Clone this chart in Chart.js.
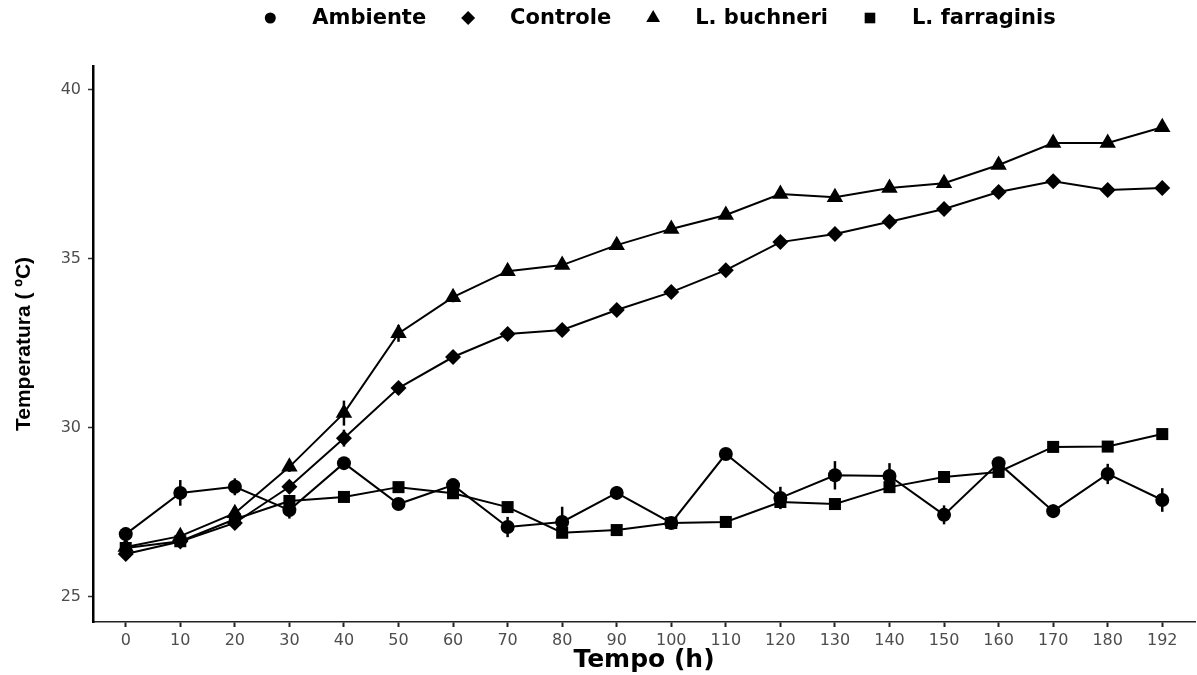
<!DOCTYPE html>
<html lang="pt">
  <head>
    <meta charset="UTF-8" />
    <title>Temperatura x Tempo</title>
    <script src="https://cdn.jsdelivr.net/npm/chart.js"></script>
    <style>
      html, body { margin: 0; padding: 0; background: #fff; }
      #wrap { width: 1197px; height: 675px; }
    </style>
  </head>
  <body>
    <div id="wrap"><canvas id="tempChart" width="1197" height="675"></canvas></div>

    <script>
      // horas de fermentação
      const horas = ["0", "10", "20", "30", "40", "50", "60", "70", "80", "90", "100",
        "110", "120", "130", "140", "150", "160", "170", "180", "192"];

      const ambiente = [26.86, 28.08, 28.26, 27.57, 28.96, 27.75, 28.31, 27.07, 27.22, 28.08,
        27.19, 29.23, 27.93, 28.6, 28.58, 27.43, 28.96, 27.54, 28.64, 27.87];
      const ambienteErro = [0.2, 0.38, 0.25, 0.25, 0.1, 0.15, 0.15, 0.3, 0.45, 0.2,
        0.15, 0.15, 0.33, 0.42, 0.38, 0.28, 0.1, 0.2, 0.3, 0.35];

      const controle = [26.27, 26.64, 27.19, 28.26, 29.7, 31.18, 32.1, 32.78, 32.9, 33.49,
        34.02, 34.67, 35.5, 35.74, 36.1, 36.48, 36.98, 37.3, 37.04, 37.1];
      const controleErro = [0.1, 0.1, 0.1, 0.1, 0.25, 0.1, 0.1, 0.05, 0.05, 0.05,
        0.05, 0.05, 0.05, 0.05, 0.05, 0.05, 0.05, 0.05, 0.05, 0.05];

      const buchneri = [26.48, 26.8, 27.48, 28.85, 30.44, 32.8, 33.87, 34.64, 34.82, 35.41,
        35.89, 36.3, 36.92, 36.83, 37.1, 37.24, 37.78, 38.43, 38.43, 38.9];
      const buchneriErro = [0.1, 0.1, 0.1, 0.15, 0.37, 0.25, 0.15, 0.05, 0.05, 0.1,
        0.05, 0.05, 0.05, 0.05, 0.05, 0.05, 0.05, 0.05, 0.05, 0.05];

      const farraginis = [26.45, 26.65, 27.3, 27.84, 27.96, 28.25, 28.07, 27.66, 26.9, 26.98,
        27.19, 27.22, 27.81, 27.75, 28.25, 28.55, 28.7, 29.44, 29.45, 29.82];
      const farraginisErro = [0.1, 0.1, 0.1, 0.1, 0.1, 0.1, 0.1, 0.1, 0.1, 0.1,
        0.1, 0.1, 0.1, 0.1, 0.1, 0.1, 0.1, 0.1, 0.1, 0.1];

      const yTicks = [25, 30, 35, 40];

      // ordem do ggplot: Ambiente, Controle, L. buchneri, L. farraginis
      const series = [
        { nome: "Ambiente", dados: ambiente, erro: ambienteErro, forma: "circle", raio: 7, raioLeg: 5.5 },
        { nome: "Controle", dados: controle, erro: controleErro, forma: "rectRot", raio: 8, raioLeg: 7 },
        { nome: "L. buchneri", dados: buchneri, erro: buchneriErro, forma: "triangle", raio: 9.5, raioLeg: 8 },
        { nome: "L. farraginis", dados: farraginis, erro: farraginisErro, forma: "rect", raio: 8.5, raioLeg: 7.5 },
      ];

      // barras de erro verticais
      const errorBars = {
        id: "errorBars",
        beforeDatasetsDraw(chart) {
          const ctx = chart.ctx;
          const y = chart.scales.y;
          ctx.save();
          ctx.strokeStyle = "#000";
          ctx.lineWidth = 2.5;
          chart.data.datasets.forEach((ds, d) => {
            const meta = chart.getDatasetMeta(d);
            meta.data.forEach((pt, i) => {
              const v = ds.data[i].y;
              const e = ds.erro[i];
              ctx.beginPath();
              ctx.moveTo(pt.x, y.getPixelForValue(v - e));
              ctx.lineTo(pt.x, y.getPixelForValue(v + e));
              ctx.stroke();
            });
          });
          ctx.restore();
        },
      };

      // legenda no topo, como no ggplot
      const topLegend = {
        id: "topLegend",
        afterDraw(chart) {
          const ctx = chart.ctx;
          const gap = 42;
          const cy = 18;
          ctx.save();
          ctx.font = 'bold 21px "DejaVu Sans"';
          const widths = series.map((s) => ctx.measureText(s.nome).width);
          let total = 6;
          widths.forEach((w, i) => { total += gap + w + (i < widths.length - 1 ? gap : 0); });
          let x = 660 - total / 2 + 6;
          ctx.fillStyle = "#000";
          ctx.strokeStyle = "#000";
          ctx.textBaseline = "middle";
          ctx.textAlign = "left";
          series.forEach((s, i) => {
            Chart.helpers.drawPoint(ctx, { pointStyle: s.forma, radius: s.raioLeg, rotation: 0, borderWidth: 0 }, x, cy);
            ctx.fillStyle = "#000";
            ctx.fillText(s.nome, x + gap, cy + 1);
            x += gap + widths[i] + gap;
          });
          ctx.restore();
        },
      };

      const datasets = series.map((s) => ({
        label: s.nome,
        data: s.dados.map((v, i) => ({ x: i, y: v })),
        erro: s.erro,
        borderColor: "#000",
        backgroundColor: "#000",
        borderWidth: 2,
        pointStyle: s.forma,
        pointRadius: s.raio,
        pointHoverRadius: s.raio,
        pointBorderWidth: 0,
        fill: false,
        tension: 0,
      }));

      const config = {
        type: "line",
        data: { datasets: datasets },
        options: {
          responsive: false,
          animation: false,
          layout: { autoPadding: false, padding: { top: 66, right: 2, left: 0, bottom: 0 } },
          plugins: {
            legend: { display: false },
            tooltip: { enabled: false },
          },
          scales: {
            x: {
              type: "linear",
              min: -0.6,
              max: 19.6,
              afterBuildTicks: (scale) => {
                scale.ticks = horas.map((h, i) => ({ value: i }));
              },
              afterFit: (scale) => {
                scale.height = 53;
                scale.paddingLeft = 0;
                scale.paddingRight = 0;
              },
              ticks: {
                autoSkip: false,
                maxRotation: 0,
                padding: 4,
                color: "#4d4d4d",
                font: { family: "DejaVu Sans", size: 16 },
                callback: (value) => horas[value],
              },
              grid: {
                drawOnChartArea: false,
                drawTicks: true,
                tickLength: 5,
                tickColor: "#222",
                tickWidth: 2,
              },
              border: { color: "#222", width: 1.5 },
              title: {
                display: true,
                text: "Tempo (h)",
                color: "#000",
                font: { family: "DejaVu Sans", size: 25, weight: "bold" },
                padding: { top: 0, bottom: 0 },
              },
            },
            y: {
              min: 24.26,
              max: 40.71,
              afterBuildTicks: (scale) => {
                scale.ticks = yTicks.map((v) => ({ value: v }));
              },
              afterFit: (scale) => { scale.width = 93; },
              ticks: {
                padding: 7,
                color: "#4d4d4d",
                font: { family: "DejaVu Sans", size: 16 },
              },
              grid: {
                drawOnChartArea: false,
                drawTicks: true,
                tickLength: 5,
                tickColor: "#333",
                tickWidth: 1.5,
              },
              border: { color: "#000", width: 2.5 },
              title: {
                display: true,
                text: "Temperatura ( ºC)",
                color: "#000",
                font: { family: "Liberation Sans", size: 21, weight: "bold" },
                padding: { top: 12, bottom: 0 },
              },
            },
          },
        },
        plugins: [errorBars, topLegend],
      };

      new Chart(document.getElementById("tempChart"), config);
    </script>
  </body>
</html>
